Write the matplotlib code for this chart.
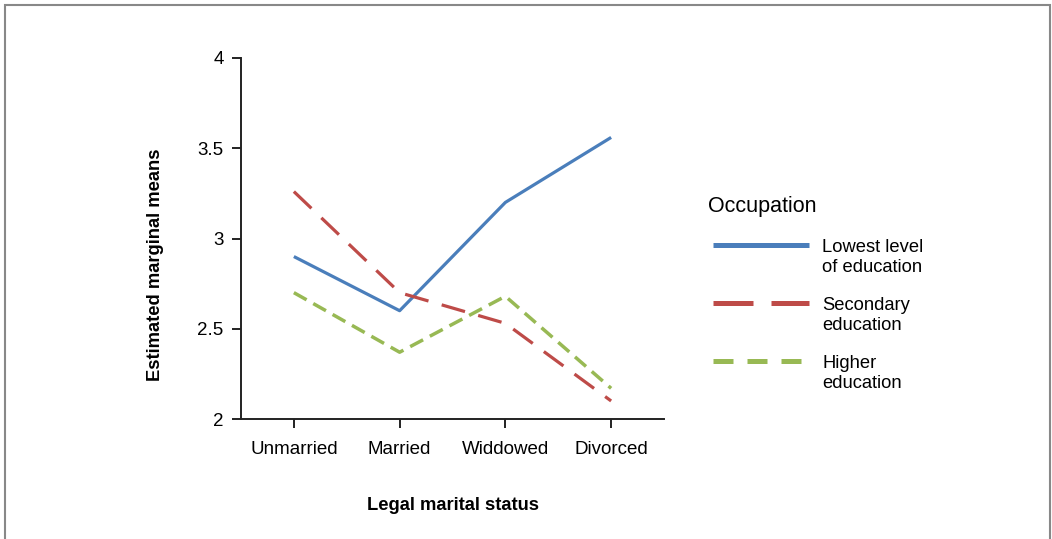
import numpy as np
import matplotlib.pyplot as plt
from matplotlib.lines import Line2D
from matplotlib.patches import Rectangle

plt.rcParams['font.family'] = ['Liberation Sans', 'DejaVu Sans']

status = ["Unmarried", "Married", "Widdowed", "Divorced"]
lowest = [2.90, 2.60, 3.20, 3.56]
secondary = [3.26, 2.70, 2.53, 2.10]
higher = [2.70, 2.37, 2.68, 2.17]
labels = ["Lowest level\nof education", "Secondary\neducation", "Higher\neducation"]
colors = ["#4a7ebb", "#be4b48", "#98b954"]

W, H = 1052, 539
fig = plt.figure(figsize=(W/100, H/100), dpi=100)
ax = fig.add_axes([241/W, 1-419/H, (664-241)/W, (419-58)/H])

x = np.arange(len(status))
ax.plot(x, lowest, color=colors[0], lw=2.3, solid_capstyle='butt')
ax.plot(x, secondary, color=colors[1], lw=2.3, dashes=(7.6, 4.3), dash_capstyle='butt')
ax.plot(x, higher, color=colors[2], lw=2.5, dashes=(4.2, 2.2), dash_capstyle='butt')

ax.set_xlim(-0.5, 3.5)
ax.set_ylim(2, 4)
ax.set_xticks(x)
ax.set_xticklabels(status)
ax.set_yticks([2, 2.5, 3, 3.5, 4])
ax.set_yticklabels(["2", "2.5", "3", "3.5", "4"])
for s in ["top", "right"]:
    ax.spines[s].set_visible(False)
for s in ["left", "bottom"]:
    ax.spines[s].set_linewidth(1.4)
    ax.spines[s].set_color("#222222")
ax.tick_params(axis='x', length=6.5, width=1.4, color="#222222", labelsize=13.5, pad=9)
ax.tick_params(axis='y', length=6.5, width=1.4, color="#222222", labelsize=13.5, pad=6)
ax.set_xlabel("Legal marital status", fontsize=13.2, fontweight='bold')
ax.set_ylabel("Estimated marginal means", fontsize=13.2, fontweight='bold')
ax.xaxis.label.set_va('center')
ax.yaxis.label.set_va('center')
ax.xaxis.set_label_coords(0.5, (419-505)/361)
ax.yaxis.set_label_coords((156-241)/423, (419-265)/361)

# legend drawn by hand so the line sits next to the first text line
fig.text(708/W, 1-207/H, "Occupation", fontsize=15.5, va='center', ha='left')
leg_y = [245, 303, 361]
leg_dash = [None, (8, 3.6), (4, 2.8)]
for i in range(3):
    yy = 1 - leg_y[i]/H
    ln = Line2D([713/W, 809/W], [yy, yy], transform=fig.transFigure,
                color=colors[i], lw=3.6, solid_capstyle='butt', dash_capstyle='butt')
    if leg_dash[i] is not None:
        ln.set_dashes(leg_dash[i])
    fig.add_artist(ln)
    for k, part in enumerate(labels[i].split("\n")):
        fig.text(822/W, 1-(leg_y[i]+2+20*k)/H, part, fontsize=13.2, va='center', ha='left')

fig.patches.append(Rectangle((5/W, -0.1), 1045/W, 1.1 - 5/H,
                             transform=fig.transFigure, fill=False,
                             edgecolor="#888888", lw=1.5))

fig.savefig("out.png", dpi=100)
